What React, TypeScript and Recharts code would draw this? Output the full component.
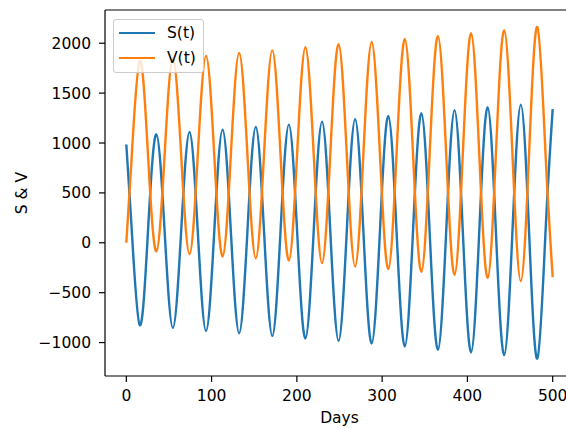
import React from 'react';
import { LineChart, Line, XAxis, YAxis, Legend, Label } from 'recharts';

// Sample times (days): extremes and mid-crossings
const days = [
  0, 6.1, 15.8, 25.5, 35.2, 44.9, 54.6, 64.4, 74.1, 83.8, 93.5, 103.2, 112.9, 122.6,
  132.3, 142.1, 151.8, 161.5, 171.2, 180.9, 190.6, 200.3, 210.0, 219.8, 229.5, 239.2,
  248.9, 258.6, 268.3, 278.0, 287.7, 297.5, 307.2, 316.9, 326.6, 336.3, 346.0, 355.7,
  365.4, 375.2, 384.9, 394.6, 404.3, 414.0, 423.7, 433.4, 443.1, 452.9, 462.6, 472.3,
  482.0, 491.7, 500,
];

const sValues = [
  985, 170, -826, 130, 1087, 118, -852, 129, 1110, 114, -883, 125, 1133, 114,
  -906, 127, 1160, 114, -933, 126, 1184, 113, -959, 128, 1214, 116,
  -983, 128, 1238, 115, -1009, 131, 1271, 116, -1039, 130, 1298, 113,
  -1073, 128, 1328, 115, -1099, 130, 1358, 116, -1126, 129, 1384, 112,
  -1160, 125, 1340,
];

const vValues = [
  0, 830, 1822, 868, -86, 881, 1848, 868, -113, 880, 1873, 868, -137, 883,
  1902, 874, -155, 887, 1928, 876, -177, 892, 1960, 878, -204, 893,
  1990, 877, -237, 888, 2013, 875, -264, 890, 2043, 876, -291, 891,
  2073, 876, -321, 890, 2100, 873, -354, 888, 2130, 873, -384, 890,
  2163, 877, -345,
];

const xTicks = [0, 100, 200, 300, 400, 500];
const yTicks = [-1000, -500, 0, 500, 1000, 1500, 2000];

const data = days.map((t, i) => ({ t, S: sValues[i], V: vValues[i] }));

const FONT = 'DejaVu Sans, sans-serif';
const FS = 15.5;

const fmt = (v: number) => String(v).replace('-', '\u2212');

const renderLegend = (props: any) => {
  const payload = props.payload || [];
  return (
    <div
      style={{
        position: 'relative',
        width: 91,
        height: 54,
        boxSizing: 'border-box',
        border: '1px solid #cccccc',
        borderRadius: 3,
        background: 'rgba(255,255,255,0.8)',
        fontFamily: FONT,
        fontSize: FS,
        color: '#000',
      }}
    >
      {payload.map((p: any, i: number) => (
        <div
          key={i}
          style={{
            position: 'absolute',
            left: 5,
            top: 3 + i * 25,
            height: 20,
            display: 'flex',
            alignItems: 'center',
            whiteSpace: 'nowrap',
          }}
        >
          <div style={{ width: 36, height: 2.4, background: p.color, marginRight: 12 }} />
          <span>{p.value}</span>
        </div>
      ))}
    </div>
  );
};

export default function App() {
  return (
    <div
      style={{
        position: 'absolute',
        left: 0,
        top: 0,
        width: 566,
        height: 428,
        overflow: 'hidden',
        background: '#fff',
      }}
    >
      <LineChart
        width={600}
        height={428}
        data={data}
        margin={{ top: 9, right: 26, bottom: 0, left: 0 }}
      >
        <XAxis
          dataKey="t"
          type="number"
          domain={[-25, 525]}
          ticks={xTicks}
          allowDataOverflow
          height={52}
          stroke="#000"
          axisLine={{ stroke: '#000', strokeWidth: 1.2 }}
          tickLine={{ stroke: '#000', strokeWidth: 1.2 }}
          tickSize={6}
          tickMargin={8}
          tick={{ fill: '#000', fontFamily: FONT, fontSize: FS }}
        >
          <Label
            content={({ viewBox }: any) => (
              <text
                x={viewBox.x + viewBox.width / 2}
                y={viewBox.y + 47}
                textAnchor="middle"
                fill="#000"
                fontFamily={FONT}
                fontSize={FS}
              >
                Days
              </text>
            )}
          />
        </XAxis>
        <XAxis
          xAxisId="top"
          orientation="top"
          dataKey="t"
          type="number"
          domain={[-25, 525]}
          ticks={xTicks}
          allowDataOverflow
          height={1}
          tick={false}
          tickLine={false}
          stroke="#000"
          axisLine={{ stroke: '#000', strokeWidth: 1.2 }}
        />
        <YAxis
          type="number"
          domain={[-1335, 2333]}
          ticks={yTicks}
          allowDataOverflow
          width={105}
          axisLine={{ stroke: '#000', strokeWidth: 1.2 }}
          tickLine={{ stroke: '#000', strokeWidth: 1.2 }}
          tickSize={6}
          tickMargin={8}
          tickFormatter={fmt}
          tick={{ fill: '#000', fontFamily: FONT, fontSize: FS }}
        >
          <Label
            content={({ viewBox }: any) => {
              const cy = viewBox.y + viewBox.height / 2;
              return (
                <text
                  x={26.5}
                  y={cy}
                  transform={`rotate(-90, 26.5, ${cy})`}
                  textAnchor="middle"
                  fill="#000"
                  fontFamily={FONT}
                  fontSize={FS}
                >
                  S &amp; V
                </text>
              );
            }}
          />
        </YAxis>
        <Legend
          layout="horizontal"
          verticalAlign="middle"
          align="center"
          content={renderLegend}
          wrapperStyle={{ position: 'absolute', left: 113, top: 19, width: 91, height: 54 }}
        />
        <Line
          dataKey="S"
          name="S(t)"
          type="natural"
          stroke="#1f77b4"
          strokeWidth={2.4}
          dot={false}
          activeDot={false}
          isAnimationActive={false}
        />
        <Line
          dataKey="V"
          name="V(t)"
          type="natural"
          stroke="#ff7f0e"
          strokeWidth={2.4}
          dot={false}
          activeDot={false}
          isAnimationActive={false}
        />
      </LineChart>
    </div>
  );
}
